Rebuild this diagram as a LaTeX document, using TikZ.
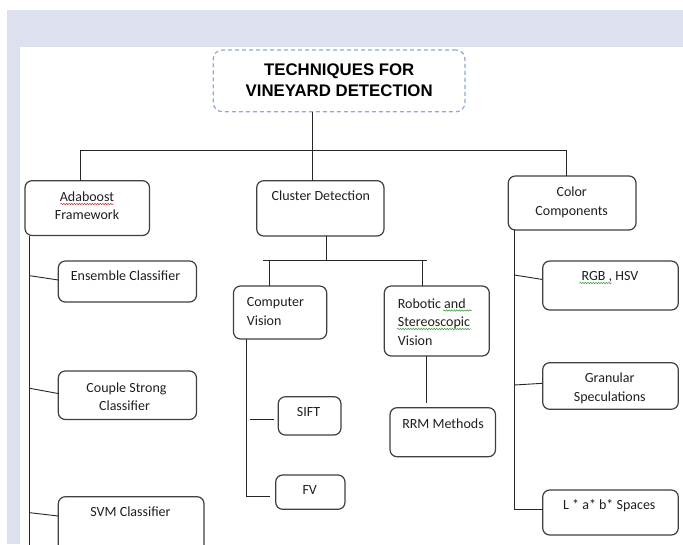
\documentclass[tikz,border=0pt]{standalone}
\usepackage{fontspec}
\setmainfont{Carlito}
\newfontfamily\titlefont{Liberation Sans}
\usetikzlibrary{decorations.pathmorphing}
\definecolor{lav}{HTML}{DDE0EF}
\definecolor{dashblue}{HTML}{8FAAD6}
\definecolor{boxgray}{HTML}{404040}
\definecolor{spellred}{HTML}{E03030}
\definecolor{spellgreen}{HTML}{40A040}
\tikzset{
  bx/.style={draw=boxgray, line width=1.2pt, rounded corners=7pt, inner sep=0pt, outer sep=0pt, fill=white},
  titlebx/.style={draw=dashblue, line width=1.2pt, dash pattern=on 4pt off 3pt, rounded corners=9pt, inner sep=0pt, outer sep=0pt},
  tx/.style={font=\fontsize{14}{16}\selectfont, inner sep=0pt, anchor=base, text=black!88},
  txl/.style={tx, anchor=base west},
  ttl/.style={font=\titlefont\bfseries\fontsize{16.8}{19}\selectfont, inner sep=0pt, anchor=base},
  ln/.style={draw=black!85, line width=0.9pt},
  wavy/.style={decorate, decoration={snake, amplitude=0.7pt, segment length=2.6pt}, line width=0.55pt}
}
\newcommand\mkbox[6][bx]{\node[#1, minimum width={#5-#3}, minimum height={#6-#4}] (#2) at ({(#3+#5)/2},{(#4+#6)/2}) {};}
\begin{document}
\begin{tikzpicture}[x=1pt,y=-1pt]
\useasboundingbox (0,0) rectangle (683,544);
\clip (0,0) rectangle (683,544);
\fill[lav] (6.7,10) rectangle (683,544);
\fill[white] (20.3,47) rectangle (683,544);

% boxes
\mkbox[titlebx]{title}{213.3}{50}{465}{111.7}
\mkbox{ada}{25}{180.7}{149.5}{235.5}
\mkbox{cluster}{256.7}{180.7}{384}{236}
\mkbox{color}{508.3}{176}{636}{230}
\mkbox{ens}{58.3}{261}{196.5}{302}
\mkbox{couple}{58.3}{371}{196.5}{419.5}
\mkbox{svm}{58.3}{496.7}{204}{570}
\mkbox{cv}{233.5}{286}{326.7}{339}
\mkbox{rob}{384.3}{286}{489.3}{356}
\mkbox{sift}{278.3}{396.7}{341}{435}
\mkbox{fv}{275.7}{475}{345}{509.3}
\mkbox{rrm}{390}{407.7}{495.5}{456.7}
\mkbox{rgb}{542.7}{261}{678.3}{310}
\mkbox{gran}{542.7}{362.7}{678.3}{409.3}
\mkbox{lab}{542.7}{490}{678.3}{535}

% texts
\node[ttl] (t-title1) at (339.2,75) {TECHNIQUES FOR};
\node[ttl] (t-title2) at (339.2,96.7) {VINEYARD DETECTION};
\node[tx] (t-ada1) at (87,201.7) {Adaboost};
\node[tx] (t-ada2) at (87,219) {Framework};
\node[tx] (t-cluster) at (320.8,200.7) {Cluster Detection};
\node[tx] (t-color1) at (571.7,196.7) {Color};
\node[tx] (t-color2) at (571.7,215) {Components};
\node[tx] (t-ens) at (125.5,280.7) {Ensemble Classifier};
\node[tx] (t-couple1) at (126.5,392.3) {Couple Strong};
\node[tx] (t-couple2) at (124.5,410) {Classifier};
\node[tx] (t-svm) at (130.5,516.7) {SVM Classifier};
\node[txl] (t-cv1) at (246.7,306.7) {Computer};
\node[txl] (t-cv2) at (246.7,325) {Vision};
\node[txl] (t-rob1) at (397.7,308.3) {Robotic and};
\node[txl] (t-rob2) at (397.7,326.7) {Stereoscopic};
\node[txl] (t-rob3) at (397.7,345) {Vision};
\node[tx] (t-sift) at (308.5,416) {SIFT};
\node[tx] (t-fv) at (309.7,494) {FV};
\node[tx] (t-rrm) at (443,428.3) {RRM Methods};
\node[tx] (t-rgb) at (610,280.7) {RGB , HSV};
\node[tx] (t-gran1) at (609.7,382.7) {Granular};
\node[tx] (t-gran2) at (609.8,401) {Speculations};
\node[tx] (t-lab) at (609.3,509.3) {L * a* b* Spaces};

% spell-check marks
\draw[wavy, spellred] (60.5,204) -- (113.5,204);
\draw[wavy, spellgreen] (443,310.5) -- (471.5,310.5);
\draw[wavy, spellgreen] (397,329) -- (470.5,329);
\draw[wavy, spellgreen] (579.5,283) -- (611.5,283);

% top level connectors
\coordinate (topL) at (80.6,150);
\coordinate (topM) at (312.7,150);
\coordinate (topR) at (566,150);
\draw[ln] (title.south -| topM) -- (cluster.north -| topM);
\draw[ln] (ada.north -| topL) -- (topL) -- (topR) -- (color.north -| topR);

% Adaboost branch
\coordinate (adaX) at (29.8,548);
\coordinate (a1) at (29.8,275.7);
\coordinate (a2) at (29.8,388.3);
\coordinate (a3) at (29.8,512.7);
\draw[ln] (ada.south -| adaX) -- (adaX);
\draw[ln] (a1) -- ([yshift=1.5pt]ens.west);
\draw[ln] (a2) -- ([yshift=1.7pt]couple.west);
\draw[ln] (a3) -- ([yshift=-19.3pt]svm.north west);

% Cluster branch
\coordinate (cJ) at (326,260.7);
\coordinate (cL) at (263,260.7);
\coordinate (cR) at (427,260.7);
\coordinate (cvx) at (269.3,260.7);
\coordinate (rbx) at (422.3,260.7);
\draw[ln] (cluster.south -| cJ) -- (cJ);
\draw[ln] (cL) -- (cR);
\draw[ln] (cvx) -- (cv.north -| cvx);
\draw[ln] (rbx) -- (rob.north -| rbx);

% Computer Vision branch
\coordinate (cvB) at (246.5,496.7);
\coordinate (sj) at (246.5,419.3);
\draw[ln, shorten >=5.5pt] (cv.south -| cvB) -- (cvB) -- (fv.west |- cvB);
\draw[ln, shorten <=3pt, shorten >=4.5pt] (sj) -- (sift.west |- sj);

% Robotic branch
\coordinate (rrx) at (426.8,356);
\draw[ln, shorten >=5pt] (rob.south -| rrx) -- (rrm.north -| rrx);

% Color branch
\coordinate (colB) at (514.3,509.3);
\coordinate (k1) at (514.3,275);
\coordinate (k2) at (514.3,385);
\draw[ln] (color.south -| colB) -- (colB) -- (lab.west |- colB);
\draw[ln] (k1) -- ([yshift=6pt]rgb.west);
\draw[ln] (k2) -- ([yshift=2.7pt]gran.west);
\end{tikzpicture}
\end{document}
